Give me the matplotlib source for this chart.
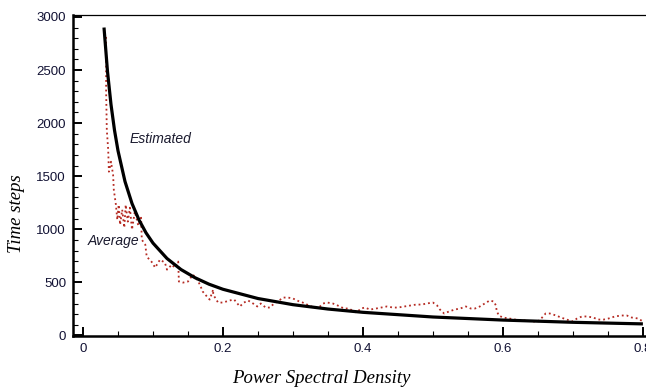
import numpy as np
import matplotlib
matplotlib.use('Agg')
import matplotlib.pyplot as plt
from matplotlib.ticker import MultipleLocator

# estimated curve
est_x = [0.03, 0.035, 0.04, 0.045, 0.05, 0.06, 0.07, 0.08, 0.09, 0.1, 0.12, 0.14,
         0.16, 0.18, 0.2, 0.25, 0.3, 0.35, 0.4, 0.5, 0.6, 0.7, 0.8]
est_y = [2900, 2485, 2175, 1933, 1740, 1450, 1243, 1088, 967, 870, 725, 621,
         544, 483, 435, 348, 290, 249, 218, 174, 145, 124, 109]

# average (noisy dotted) curve
avg_x = [0.033, 0.033, 0.034, 0.036, 0.037, 0.040, 0.043, 0.044, 0.047, 0.049,
         0.051, 0.053, 0.056, 0.059, 0.061, 0.064, 0.067, 0.070, 0.074, 0.079,
         0.083, 0.084, 0.089, 0.091, 0.099, 0.103, 0.110, 0.117, 0.120, 0.127,
         0.131, 0.136, 0.137, 0.143, 0.150, 0.157, 0.163, 0.167, 0.171, 0.177,
         0.181, 0.186, 0.186, 0.193, 0.200, 0.209, 0.216, 0.224, 0.230, 0.236,
         0.243, 0.249, 0.254, 0.261, 0.267, 0.273, 0.280, 0.286, 0.293, 0.300,
         0.309, 0.314, 0.323, 0.330, 0.337, 0.343, 0.349, 0.357, 0.364, 0.373,
         0.380, 0.387, 0.391, 0.397, 0.403, 0.410, 0.419, 0.426, 0.434, 0.443,
         0.450, 0.459, 0.467, 0.476, 0.484, 0.491, 0.500, 0.506, 0.510, 0.516,
         0.523, 0.531, 0.539, 0.547, 0.554, 0.560, 0.567, 0.574, 0.581, 0.587,
         0.590, 0.591, 0.594, 0.600, 0.609, 0.617, 0.626, 0.634, 0.641, 0.650,
         0.656, 0.661, 0.667, 0.676, 0.683, 0.691, 0.699, 0.706, 0.713, 0.720,
         0.729, 0.736, 0.744, 0.751, 0.760, 0.769, 0.777, 0.784, 0.793, 0.800]
avg_y = [2811, 2312, 1936, 1748, 1542, 1636, 1513, 1372, 1231, 1090,
         1231, 1043, 1184, 1015, 1231, 1072, 1203, 996, 1166, 1034,
         1109, 902, 855, 743, 686, 639, 714, 686, 620, 667,
         639, 696, 508, 498, 508, 573, 526, 479, 414, 367,
         338, 432, 385, 310, 310, 329, 338, 273, 310, 329,
         301, 273, 301, 263, 263, 301, 329, 357, 357, 348,
         320, 310, 282, 263, 263, 301, 310, 301, 282, 254,
         254, 226, 216, 254, 263, 244, 254, 263, 273, 263,
         263, 273, 282, 291, 291, 301, 310, 282, 244, 207,
         226, 244, 254, 273, 254, 254, 273, 301, 329, 320,
         282, 235, 188, 169, 160, 150, 141, 141, 132, 132,
         169, 207, 207, 188, 169, 150, 132, 160, 179, 179,
         169, 150, 150, 160, 179, 188, 188, 169, 160, 132]

xticks = [0, 0.2, 0.4, 0.6, 0.8]
xtick_labels = ['0', '0.2', '0.4', '0.6', '0.8']
yticks = [0, 500, 1000, 1500, 2000, 2500, 3000]

fig = plt.figure(figsize=(6.46, 3.87), dpi=100)
ax = fig.add_axes([73/646, 51/387, 572/646, 321/387])

ax.plot(avg_x, avg_y, color='#b52a22', ls=':', lw=1.3)
ax.plot(est_x, est_y, color='k', lw=2.3, solid_capstyle='butt')

ax.text(0.111, 1852, 'Estimated', fontsize=10, style='italic',
        ha='center', va='center', family='Liberation Sans', color='#1a1a2e')
ax.text(0.007, 893, 'Average', fontsize=10, style='italic',
        ha='left', va='center', family='Liberation Sans', color='#1a1a2e')

ax.set_xlim(-0.0143, 0.803)
ax.set_ylim(-5, 3018)
ax.set_xticks(xticks)
ax.set_xticklabels(xtick_labels)
ax.set_yticks(yticks)
ax.xaxis.set_minor_locator(MultipleLocator(0.05))
ax.yaxis.set_minor_locator(MultipleLocator(100))
ax.tick_params(which='both', direction='in', top=False, right=False,
               labelsize=9.5, labelcolor='#111133')
ax.tick_params(which='major', length=6.5, width=1.4)
ax.tick_params(which='minor', length=3.5, width=0.8)
ax.tick_params(axis='y', pad=5)
ax.tick_params(axis='x', pad=5)
for lab in ax.get_xticklabels() + ax.get_yticklabels():
    lab.set_family('Liberation Sans')

ax.spines['right'].set_visible(False)
ax.spines['left'].set_linewidth(1.8)
ax.spines['bottom'].set_linewidth(1.8)
ax.spines['top'].set_linewidth(0.9)

ax.set_xlabel('Power Spectral Density', fontsize=13.5, style='italic',
              family='Liberation Serif')
ax.set_ylabel('Time steps', fontsize=13.5, style='italic',
              family='Liberation Serif')
ax.xaxis.set_label_coords(0.434, -0.106)
ax.yaxis.set_label_coords(-0.084, 0.38)

fig.savefig('out.png', dpi=100)
